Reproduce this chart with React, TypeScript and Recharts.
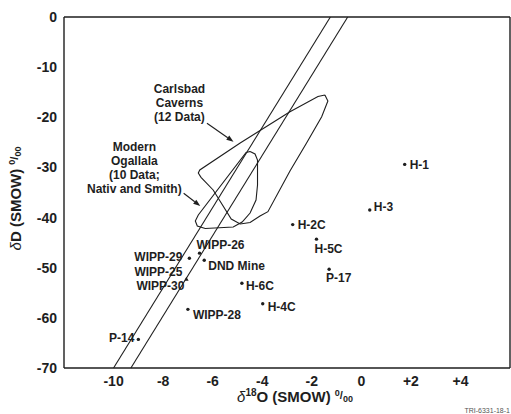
import { ComposedChart, Scatter, XAxis, YAxis, ReferenceLine, Label } from 'recharts';

// ---------------------------------------------------------------------------
// Data
// ---------------------------------------------------------------------------

const xTicks = [-10, -8, -6, -4, -2, 0, 2, 4];
const yTicks = [0, -10, -20, -30, -40, -50, -60, -70];
const yInnerTicks = [-10, -20, -30, -40, -50, -60];

const sampleNames = ['H-1', 'H-3', 'H-2C', 'H-5C', 'P-17', 'H-6C', 'H-4C', 'WIPP-28', 'DND Mine', 'WIPP-26', 'WIPP-29', 'P-14'];
const sampleO18 = [1.75, 0.34, -2.77, -1.81, -1.3, -4.82, -3.98, -7.0, -6.34, -6.53, -6.94, -9.0];
const sampleD = [-29.4, -38.5, -41.4, -44.3, -50.3, -53.1, -57.2, -58.3, -48.5, -47.1, -48.1, -64.3];

// the two WIPP-25 / WIPP-30 samples plot on top of each other (triangle)
const wippNames = ['WIPP-25', 'WIPP-30'];
const wippO18 = [-7.06, -7.02];
const wippD = [-52.3, -52.1];

// envelope of Carlsbad Caverns drip waters (12 data)
const carlsbadO18 = [-1.47, -1.35, -1.6, -2.21, -2.88, -3.77, -4.09, -4.49, -4.89, -5.25, -5.98, -6.47, -6.58, -6.52, -4.89, -2.88, -1.75, -1.47];
const carlsbadD = [-15.56, -16.75, -19.88, -25.13, -30.71, -38.83, -39.69, -40.99, -41.28, -40.29, -34.5, -31.97, -31.11, -30.51, -25.13, -18.89, -15.86, -15.56];

// envelope of modern Ogallala waters (10 data; Nativ and Smith)
const ogallalaO18 = [-4.49, -4.29, -4.19, -4.19, -4.25, -4.49, -4.81, -5.17, -6.3, -6.62, -6.7, -6.58, -4.65, -4.49];
const ogallalaD = [-26.82, -27.32, -28.52, -33.51, -36.5, -39.09, -40.89, -41.88, -42.18, -41.68, -40.69, -39.49, -27.02, -26.82];

// meteoric water lines (slope 8)
const mwlO18 = [-10, -1.25];
const mwlD = [-70, 0];
const lmwlO18 = [-9.3, -0.55];
const lmwlD = [-70, 0];

// note text and where its arrow runs
const carlsbadNote = ['Carlsbad', 'Caverns', '(12 Data)'];
const ogallalaNote = ['Modern', 'Ogallala', '(10 Data;', 'Nativ and Smith)'];
const carlsbadArrow = [{ x: -6.23, y: -21.2 }, { x: -5.16, y: -24.87 }];
const ogallalaArrow = [{ x: -7.17, y: -35.16 }, { x: -6.5, y: -37.7 }];

// ---------------------------------------------------------------------------
// Styling
// ---------------------------------------------------------------------------

const INK = '#1e1e1e';
const FONT = '"Liberation Sans", Arial, Helvetica, sans-serif';

// where each sample label sits relative to its dot
const labelPlace: Record<string, { dx: number; dy: number; anchor: 'start' | 'end' }> = {
  'H-1': { dx: 5, dy: 0, anchor: 'start' },
  'H-3': { dx: 4, dy: -3, anchor: 'start' },
  'H-2C': { dx: 5, dy: 0, anchor: 'start' },
  'H-5C': { dx: -2, dy: 10, anchor: 'start' },
  'P-17': { dx: -3, dy: 8, anchor: 'start' },
  'H-6C': { dx: 4, dy: 2, anchor: 'start' },
  'H-4C': { dx: 5, dy: 3, anchor: 'start' },
  'WIPP-28': { dx: 5, dy: 5, anchor: 'start' },
  'DND Mine': { dx: 4, dy: 5, anchor: 'start' },
  'WIPP-26': { dx: -3, dy: -8, anchor: 'start' },
  'WIPP-29': { dx: -7, dy: -2, anchor: 'end' },
  'WIPP-25': { dx: -4, dy: -7.2, anchor: 'end' },
  'WIPP-30': { dx: -3, dy: 7.4, anchor: 'end' },
  'P-14': { dx: -4, dy: -2, anchor: 'end' },
};

const zip = (xs: number[], ys: number[]) => xs.map((x, i) => ({ x, y: ys[i] }));

const samples = sampleNames.map((name, i) => ({ name, x: sampleO18[i], y: sampleD[i] }));
const wippPair = wippNames.map((name, i) => ({ name, x: wippO18[i], y: wippD[i] }));
const notes = [
  { x: -7.34, y: -14.3, lines: carlsbadNote },
  { x: -9.16, y: -25.8, lines: ogallalaNote },
];

// ---------------------------------------------------------------------------
// Shapes
// ---------------------------------------------------------------------------

function SampleLabel({ cx, cy, name }: { cx: number; cy: number; name: string }) {
  const p = labelPlace[name] ?? { dx: 5, dy: 0, anchor: 'start' };
  return (
    <text
      x={cx + p.dx}
      y={cy + p.dy}
      dy="0.36em"
      textAnchor={p.anchor}
      fontFamily={FONT}
      fontWeight="bold"
      fontSize={12}
      fill={INK}
    >
      {name}
    </text>
  );
}

function DotMark(props: any) {
  const { cx, cy, payload } = props;
  return (
    <g>
      <circle cx={cx} cy={cy} r={1.7} fill={INK} />
      <SampleLabel cx={cx} cy={cy} name={payload.name} />
    </g>
  );
}

function TriangleMark(props: any) {
  const { cx, cy, payload } = props;
  return (
    <g>
      {payload.name === wippNames[0] && (
        <path d={`M${cx},${cy - 2.4}L${cx + 2.2},${cy + 1.6}L${cx - 2.2},${cy + 1.6}Z`} fill={INK} />
      )}
      <SampleLabel cx={cx} cy={cy} name={payload.name} />
    </g>
  );
}

function NoteText(props: any) {
  const { cx, cy, payload } = props;
  return (
    <text x={cx} y={cy} textAnchor="middle" fontFamily={FONT} fontWeight="bold" fontSize={12} fill={INK}>
      {payload.lines.map((line: string, i: number) => (
        <tspan key={i} x={cx} dy={i === 0 ? '0.36em' : 14}>
          {line}
        </tspan>
      ))}
    </text>
  );
}

function ArrowShape(props: any) {
  const { x1, y1, x2, y2 } = props;
  const a = Math.atan2(y2 - y1, x2 - x1);
  const len = 7;
  const w = 2.6;
  const bx = x2 - len * Math.cos(a);
  const by = y2 - len * Math.sin(a);
  const px = -Math.sin(a) * w;
  const py = Math.cos(a) * w;
  return (
    <g>
      <line x1={x1} y1={y1} x2={bx} y2={by} stroke={INK} strokeWidth={1.1} />
      <path d={`M${x2},${y2}L${bx + px},${by + py}L${bx - px},${by - py}Z`} fill={INK} />
    </g>
  );
}

const noShape = () => <g />;

function XTitle(props: any) {
  const { viewBox } = props;
  const cx = viewBox.x + viewBox.width / 2 + 8;
  const base = viewBox.y + 34;
  return (
    <g>
      <text x={cx} y={base} textAnchor="middle" fontFamily={FONT} fontWeight="bold" fontSize={15} fill={INK}>
        <tspan fontStyle="italic" fontWeight="normal">δ</tspan>
        <tspan fontSize={10} dy={-6}>18</tspan>
        <tspan dy={6}>O (SMOW) </tspan>
        <tspan fontSize={9} dy={-6}>0</tspan>
        <tspan fontSize={11} dy={3}>/</tspan>
        <tspan fontSize={9} dy={3}>00</tspan>
      </text>
      <text x={510} y={413} textAnchor="end" fontFamily={FONT} fontSize={7} fill="#555">
        TRI-6331-18-1
      </text>
    </g>
  );
}

function YTitle(props: any) {
  const { viewBox } = props;
  const cx = 16;
  const cy = viewBox.y + viewBox.height / 2 + 6;
  return (
    <text
      x={cx}
      y={cy}
      dy="0.36em"
      transform={`rotate(-90, ${cx}, ${cy})`}
      textAnchor="middle"
      fontFamily={FONT}
      fontWeight="bold"
      fontSize={15}
      fill={INK}
    >
      <tspan fontStyle="italic" fontWeight="normal">δ</tspan>
      <tspan>D (SMOW) </tspan>
      <tspan fontSize={9} dy={-6}>0</tspan>
      <tspan fontSize={11} dy={3}>/</tspan>
      <tspan fontSize={9} dy={3}>00</tspan>
    </text>
  );
}

const tickStyle = { fontSize: 14, fontWeight: 'bold', fill: INK, fontFamily: FONT };
const fmtX = (v: number) => (v > 0 ? `+${v}` : `${v}`);

// ---------------------------------------------------------------------------
// Component
// ---------------------------------------------------------------------------

export default function App() {
  return (
    <div style={{ position: 'absolute', left: 0, top: 0, width: 511, height: 414, background: '#fff' }}>
      <ComposedChart width={511} height={414} margin={{ top: 17, right: 1, bottom: 0, left: 0 }}>
        {/* frame + labelled axes */}
        <XAxis
          type="number"
          dataKey="x"
          domain={[-12, 6]}
          ticks={xTicks}
          interval={0}
          allowDataOverflow
          height={46}
          tickLine={false}
          tickSize={0}
          tickMargin={8}
          tickFormatter={fmtX}
          tick={tickStyle}
          axisLine={{ stroke: INK, strokeWidth: 1.4 }}
          label={<Label content={XTitle} />}
        />
        <YAxis
          type="number"
          dataKey="y"
          domain={[-70, 0]}
          ticks={yTicks}
          interval={0}
          allowDataOverflow
          width={64}
          tickLine={false}
          tickSize={0}
          tickMargin={7}
          tick={tickStyle}
          axisLine={{ stroke: INK, strokeWidth: 1.4 }}
          label={<Label content={YTitle} />}
        />
        {/* inward tick marks on all four sides */}
        <XAxis
          xAxisId="bottomIn"
          orientation="bottom"
          mirror
          type="number"
          domain={[-12, 6]}
          ticks={xTicks}
          interval={0}
          allowDataOverflow
          tick={false}
          tickSize={6}
          tickLine={{ stroke: INK, strokeWidth: 1.2 }}
          axisLine={false}
        />
        <XAxis
          xAxisId="top"
          orientation="top"
          mirror
          type="number"
          domain={[-12, 6]}
          ticks={xTicks}
          interval={0}
          allowDataOverflow
          tick={false}
          tickSize={6}
          tickLine={{ stroke: INK, strokeWidth: 1.2 }}
          axisLine={{ stroke: INK, strokeWidth: 1.4 }}
        />
        <YAxis
          yAxisId="leftIn"
          orientation="left"
          mirror
          type="number"
          domain={[-70, 0]}
          ticks={yInnerTicks}
          interval={0}
          allowDataOverflow
          tick={false}
          tickSize={7}
          tickLine={{ stroke: INK, strokeWidth: 1.2 }}
          axisLine={false}
        />
        <YAxis
          yAxisId="right"
          orientation="right"
          mirror
          type="number"
          domain={[-70, 0]}
          ticks={yInnerTicks}
          interval={0}
          allowDataOverflow
          tick={false}
          tickSize={7}
          tickLine={{ stroke: INK, strokeWidth: 1.2 }}
          axisLine={{ stroke: INK, strokeWidth: 1.4 }}
        />

        {/* meteoric water lines */}
        <ReferenceLine
          segment={zip(mwlO18, mwlD)}
          stroke={INK}
          strokeWidth={1.1}
          ifOverflow="visible"
        />
        <ReferenceLine
          segment={zip(lmwlO18, lmwlD)}
          stroke={INK}
          strokeWidth={1.1}
          ifOverflow="visible"
        />

        {/* envelopes */}
        <Scatter
          data={zip(carlsbadO18, carlsbadD)}
          line={{ stroke: INK, strokeWidth: 1.1 }}
          lineType="joint"
          shape={noShape}
          isAnimationActive={false}
        />
        <Scatter
          data={zip(ogallalaO18, ogallalaD)}
          line={{ stroke: INK, strokeWidth: 1.1 }}
          lineType="joint"
          shape={noShape}
          isAnimationActive={false}
        />

        {/* note arrows */}
        <ReferenceLine segment={carlsbadArrow} shape={ArrowShape} ifOverflow="visible" />
        <ReferenceLine segment={ogallalaArrow} shape={ArrowShape} ifOverflow="visible" />

        {/* notes */}
        <Scatter data={notes} shape={NoteText} isAnimationActive={false} />

        {/* samples */}
        <Scatter data={samples} shape={DotMark} isAnimationActive={false} />
        <Scatter data={wippPair} shape={TriangleMark} isAnimationActive={false} />
      </ComposedChart>
    </div>
  );
}
